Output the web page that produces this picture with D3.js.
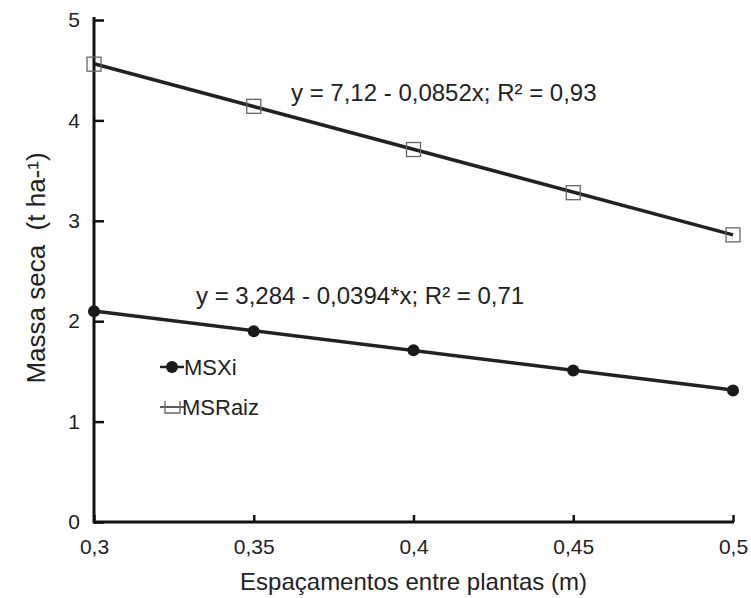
<!DOCTYPE html>
<html>
<head>
<meta charset="utf-8">
<script src="https://cdn.jsdelivr.net/npm/d3@7"></script>
<style>
  html, body { margin: 0; padding: 0; background: #fff; }
  svg { display: block; font-family: "Liberation Sans", Arial, sans-serif; }
  text { white-space: pre; }
</style>
</head>
<body>
<svg id="chart" width="751" height="598"></svg>
<script>
// Data
const spacings = [0.3, 0.35, 0.4, 0.45, 0.5];
const msxi = [2.10, 1.90, 1.71, 1.51, 1.31];
const msraiz = [4.56, 4.14, 3.71, 3.28, 2.86];
const fitMSXi = { a: 3.284, b: -0.0394 };   // x in cm
const fitMSRaiz = { a: 7.12, b: -0.0852 };
const xTicks = [0.3, 0.35, 0.4, 0.45, 0.5];
const xTickLabels = ["0,3", "0,35", "0,4", "0,45", "0,5"];
const yTicks = [0, 1, 2, 3, 4, 5];
const yTickLabels = ["0", "1", "2", "3", "4", "5"];
const eqMSRaiz = "y = 7,12 - 0,0852x; R² = 0,93";
const eqMSXi = "y = 3,284 - 0,0394*x; R² = 0,71";

const FONT = "Liberation Sans, Arial, sans-serif";
const svg = d3.select("#chart");
const x = d3.scaleLinear().domain([0.3, 0.5]).range([94, 733]);
const y = d3.scaleLinear().domain([0, 5]).range([522, 20]);

// Axes
const xAxis = d3.axisBottom(x).tickValues(xTicks).tickSizeInner(-7).tickSizeOuter(0)
  .tickFormat((d, i) => xTickLabels[i]).tickPadding(17);
const gx = svg.append("g").attr("transform", `translate(0,${y(0)})`).call(xAxis);
const yAxis = d3.axisLeft(y).tickValues(yTicks).tickSizeInner(-10).tickSizeOuter(0)
  .tickFormat((d, i) => yTickLabels[i]).tickPadding(14);
const gy = svg.append("g").attr("transform", `translate(${x(0.3)},0)`).call(yAxis);
[gx, gy].forEach(g => {
  g.attr("font-size", null).attr("font-family", null);
  g.select(".domain").attr("stroke", "#111").attr("stroke-width", 3);
  g.selectAll(".tick line").attr("stroke", "#111").attr("stroke-width", 2.5);
  g.selectAll(".tick text").attr("fill", "#222")
    .style("font-size", "21px").style("font-family", FONT);
});
gy.select(".domain").attr("d", `M0,${y(0)+1.5}V${y(5)-3}`);
gx.select(".domain").attr("d", `M0,0H${x(0.5)-x(0.3)+1}`).attr("transform", `translate(${x(0.3)},0)`);

// Regression lines
const fit = (f, s) => f.a + f.b * s * 100;
[fitMSRaiz, fitMSXi].forEach(f => {
  svg.append("path")
    .datum([0.3, 0.5])
    .attr("d", d3.line().x(d => x(d)).y(d => y(fit(f, d))))
    .attr("fill", "none").attr("stroke", "#222").attr("stroke-width", 3.5);
});

// Markers MSXi
svg.append("g").selectAll("circle").data(spacings).join("circle")
  .attr("cx", d => x(d)).attr("cy", (d, i) => y(msxi[i])).attr("r", 6).attr("fill", "#1a1a1a");
// Markers MSRaiz
svg.append("g").selectAll("rect").data(spacings).join("rect")
  .attr("x", d => x(d) - 7).attr("y", (d, i) => y(msraiz[i]) - 7)
  .attr("width", 14).attr("height", 14)
  .attr("fill", "none").attr("stroke", "#666").attr("stroke-width", 1.3);

// Equations
svg.append("text").attr("x", 291).attr("y", 101).style("font-size", "24px").attr("fill", "#222").text(eqMSRaiz);
svg.append("text").attr("x", 196).attr("y", 304).style("font-size", "24px").attr("fill", "#222").text(eqMSXi);

// Legend
const lg = svg.append("g");
lg.append("line").attr("x1", 160).attr("x2", 184).attr("y1", 367).attr("y2", 367).attr("stroke", "#222").attr("stroke-width", 2.5);
lg.append("circle").attr("cx", 172).attr("cy", 367).attr("r", 6).attr("fill", "#1a1a1a");
lg.append("text").attr("x", 184).attr("y", 375).style("font-size", "22px").attr("fill", "#222").text("MSXi");
lg.append("line").attr("x1", 160).attr("x2", 184).attr("y1", 407).attr("y2", 407).attr("stroke", "#222").attr("stroke-width", 1.5);
lg.append("path").attr("d", "M165,401V413H180V401").attr("fill", "none").attr("stroke", "#666").attr("stroke-width", 1.3);
lg.append("text").attr("x", 182).attr("y", 415).style("font-size", "22px").attr("fill", "#222").text("MSRaiz");

// Axis titles
svg.append("text").attr("x", x(0.4)).attr("y", 590).attr("text-anchor", "middle")
  .style("font-size", "24px").attr("fill", "#222").text("Espaçamentos entre plantas (m)");
svg.append("text").attr("transform", "translate(45,268) rotate(-90)").attr("text-anchor", "middle")
  .style("font-size", "26px").attr("fill", "#222").text("Massa seca  (t ha-¹)");
</script>
</body>
</html>
